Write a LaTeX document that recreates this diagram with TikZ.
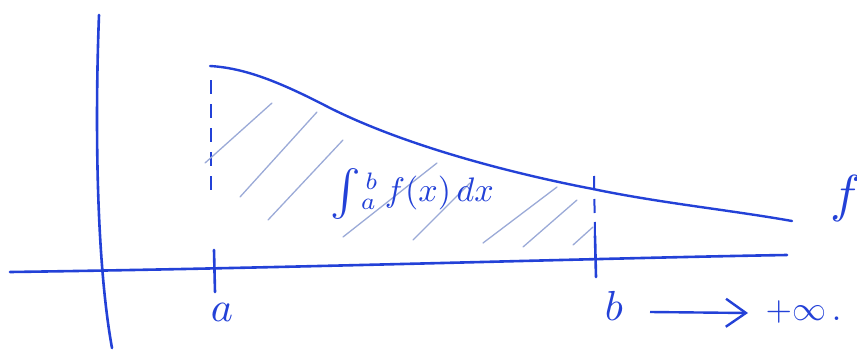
\documentclass[tikz,border=0pt]{standalone}
\usetikzlibrary{arrows.meta}
\definecolor{pen}{RGB}{35,65,215}
\definecolor{hatchc}{RGB}{155,170,215}
\begin{document}
\begin{tikzpicture}[x=1pt,y=-1pt,
  axis/.style={pen, line width=2.6pt, line cap=round},
  curvepen/.style={pen, line width=2.4pt, line cap=round},
  guide/.style={pen, line width=2pt, dash pattern=on 14pt off 10pt},
  tickmark/.style={pen, line width=2.6pt, line cap=round},
  hatchline/.style={hatchc, line width=1.3pt, line cap=round},
  lbl/.style={pen, inner sep=0pt, transform shape}]
\useasboundingbox (0,0) rectangle (857,351);
% axes
\coordinate (xl) at (10,272);
\coordinate (xr) at (787,255);
\coordinate (yt) at (99,15);
\coordinate (yb) at (112,348);
\draw[axis] (xl) .. controls (300,268) and (600,258) .. (xr);
\draw[axis] (yt) .. controls (95,120) and (96,260) .. (yb);
% curve
\coordinate (c0) at (210,66);
\coordinate (cb) at (593,189);
\coordinate (c1) at (792,221);
\draw[curvepen] (c0) .. controls (245,68) and (280,82) .. (330,108)
  .. controls (410,148) and (520,175) .. (cb)
  .. controls (660,203) and (730,210) .. (c1);
% guide lines
\coordinate (ga) at (211,80);
\coordinate (gat) at (214,250);
\coordinate (gab) at (215,292);
\draw[guide] (ga) -- (211,198);
\draw[tickmark] (gat) -- (gab);
\coordinate (gbt) at (594,176);
\coordinate (gb) at (595,236);
\coordinate (gbb) at (596,277);
\draw[guide, dash pattern=on 14pt off 9pt] (gbt) -- (gb);
\draw[tickmark] (gb) -- (gbb);
% hatching
\draw[hatchline] (205,163) -- (272,103);
\draw[hatchline] (240,197) -- (317,112);
\draw[hatchline] (268,220) -- (343,140);
\draw[hatchline] (343,237) -- (437,163);
\draw[hatchline] (413,240) -- (470,183);
\draw[hatchline] (483,243) -- (557,187);
\draw[hatchline] (523,247) -- (577,200);
\draw[hatchline] (573,245) -- (593,227);
% labels
\node[lbl, scale=3.4] (integral) at (412,194) {\raisebox{-1.2pt}{\scalebox{1.35}{$\int$}}$_a^{\,b}\,f(x)\,dx$};
\node[lbl, scale=4.2] (la) at (222,312) {$a$};
\node[lbl, scale=4.2] (lb) at (614,306) {$b$};
\node[lbl, scale=3.4, anchor=west] (linf) at (765,312) {$+\infty\,.$};
\node[lbl, scale=5.2] (lf) at (846,198) {$f$};
\draw[pen, line width=2.4pt, -{Straight Barb[length=20pt,width=28pt,line width=2.4pt]}] (650,312) coordinate (arrs) -- (748,313) coordinate (arre);
\end{tikzpicture}
\end{document}
